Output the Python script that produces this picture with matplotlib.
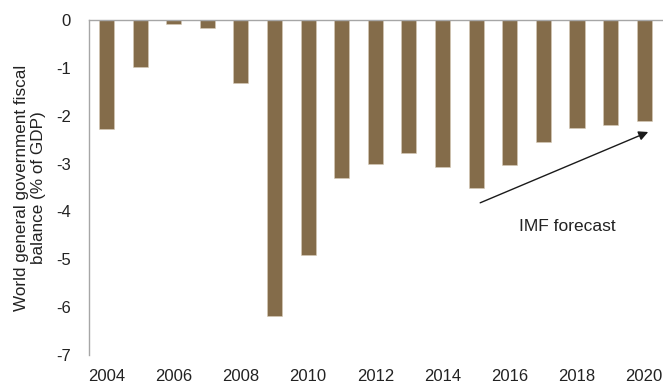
import matplotlib
matplotlib.use("Agg")
import matplotlib.pyplot as plt

plt.rcParams['font.family'] = ['Liberation Sans', 'DejaVu Sans']
plt.rcParams['axes.unicode_minus'] = False

years = list(range(2004, 2021))
balance = [-2.28, -0.99, -0.08, -0.17, -1.32, -6.19, -4.91, -3.30, -3.00,
           -2.78, -3.08, -3.51, -3.03, -2.55, -2.26, -2.19, -2.10]
xtick_years = list(range(2004, 2021, 2))
yticks = [0, -1, -2, -3, -4, -5, -6, -7]

bar_color = '#846C4A'

fig = plt.figure(figsize=(6.63, 3.81), dpi=100)
ax = fig.add_axes([89/663, 26/381, (663-89)/663, 335/381])

ax.bar(years, balance, width=0.45, color=bar_color, edgecolor='#d8cbb8', linewidth=0.4)

ax.set_xlim(2003.48, 2020.56)
ax.set_ylim(-7, 0)
ax.set_yticks(yticks)
ax.set_yticklabels([str(v) for v in yticks])
ax.set_xticks(xtick_years)
ax.set_xticklabels([str(y) for y in xtick_years])

for s in ['right', 'bottom']:
    ax.spines[s].set_visible(False)
for s in ['left', 'top']:
    ax.spines[s].set_color('#a6a6a6')
    ax.spines[s].set_linewidth(1.0)

ax.tick_params(axis='both', length=0, labelsize=12, labelcolor='#222222')
ax.tick_params(axis='y', pad=13)
ax.tick_params(axis='x', pad=10)

ax.set_ylabel('World general government fiscal\nbalance (% of GDP)', fontsize=12.3,
              color='#222222', labelpad=7, linespacing=1.2, multialignment='center')

ax.annotate('', xy=(2020.12, -2.34), xytext=(2015.12, -3.82),
            arrowprops=dict(arrowstyle='-|>', color='#1a1a1a', lw=1.0,
                            mutation_scale=14, shrinkA=0, shrinkB=0))
ax.text(2017.7, -4.32, 'IMF forecast', fontsize=12.5, color='#222222',
        ha='center', va='center')

fig.savefig('out.png', dpi=100)
